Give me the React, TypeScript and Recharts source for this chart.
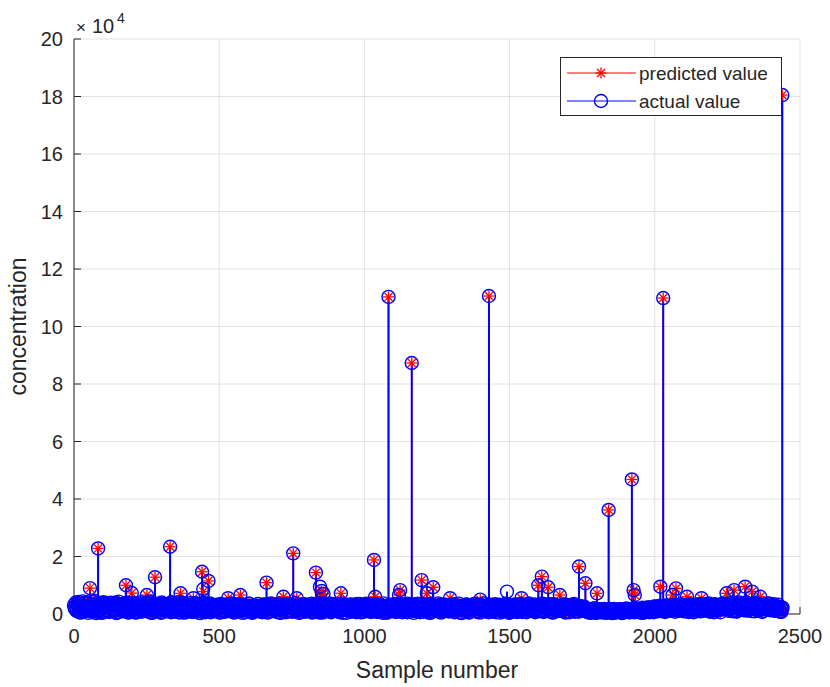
import React from 'react';
import { ComposedChart, Scatter, ErrorBar, XAxis, YAxis, CartesianGrid, Legend } from 'recharts';

const FONT = '"Liberation Sans", Arial, Helvetica, sans-serif';
const INK = '#262626';
const BLUE = '#0000ff';
const RED = '#ff0000';
const GRID = '#e2e2e2';

// dense low-level samples, values in units of 1e4
// baseA: samples 0, 8, 16, ... ; baseB: samples 4, 12, 20, ... ; baseC: samples 2, 6, 10, ...
const baseA = [
  0.31, 0.12, 0.42, 0.05, 0.22, 0.38, 0.15, 0.27, 0.08, 0.45, 0.19, 0.33, 0.04, 0.24, 0.36, 0.11, 0.29, 0.18, 0.40, 0.07,
  0.21, 0.34, 0.09, 0.26, 0.14, 0.37, 0.06, 0.23, 0.31, 0.12, 0.28, 0.17, 0.39, 0.05, 0.25, 0.33, 0.10, 0.30, 0.16, 0.35,
  0.13, 0.29, 0.41, 0.08, 0.24, 0.19, 0.36, 0.06, 0.27, 0.15, 0.32, 0.10, 0.38, 0.21, 0.04, 0.26, 0.34, 0.12, 0.23, 0.30,
  0.09, 0.25, 0.18, 0.33, 0.07, 0.22, 0.28, 0.14, 0.35, 0.05, 0.20, 0.31, 0.11, 0.27, 0.16, 0.24, 0.08, 0.30, 0.19, 0.13,
  0.26, 0.06, 0.32, 0.17, 0.23, 0.10, 0.29, 0.15, 0.36, 0.04, 0.21, 0.27, 0.12, 0.33, 0.08, 0.25, 0.18, 0.30, 0.07, 0.22,
  0.28, 0.14, 0.34, 0.09, 0.24, 0.19, 0.31, 0.05, 0.26, 0.16, 0.37, 0.11, 0.22, 0.29, 0.07, 0.32, 0.13, 0.25, 0.20, 0.08,
  0.30, 0.12, 0.23, 0.35, 0.06, 0.27, 0.17, 0.21, 0.33, 0.09, 0.24, 0.15, 0.31, 0.04, 0.28, 0.19, 0.11, 0.26, 0.34, 0.14,
  0.22, 0.08, 0.29, 0.18, 0.32, 0.10, 0.25, 0.14, 0.36, 0.06, 0.20, 0.27, 0.13, 0.30, 0.09, 0.23, 0.17, 0.28, 0.05, 0.24,
  0.16, 0.31, 0.11, 0.26, 0.07, 0.21, 0.29, 0.13, 0.18, 0.33, 0.05, 0.24, 0.15, 0.28, 0.09, 0.22, 0.30, 0.12, 0.19, 0.25,
  0.08, 0.27, 0.17, 0.32, 0.10, 0.23, 0.14, 0.29, 0.06, 0.20, 0.26, 0.12, 0.34, 0.07, 0.21, 0.16, 0.28, 0.11, 0.24, 0.30,
  0.18, 0.35, 0.09, 0.26, 0.14, 0.31, 0.06, 0.22, 0.28, 0.12, 0.19, 0.33, 0.08, 0.25, 0.15, 0.29, 0.10, 0.21, 0.27, 0.13,
  0.20, 0.07, 0.16, 0.11, 0.19, 0.05, 0.14, 0.09, 0.18, 0.04, 0.12, 0.17, 0.06, 0.15, 0.10, 0.13, 0.03, 0.16, 0.08, 0.11,
  0.14, 0.06, 0.19, 0.10, 0.16, 0.04, 0.21, 0.12, 0.08, 0.18, 0.25, 0.11, 0.22, 0.15, 0.28, 0.09, 0.24, 0.17, 0.30, 0.13,
  0.26, 0.19, 0.31, 0.11, 0.23, 0.16, 0.29, 0.08, 0.25, 0.21, 0.33, 0.14, 0.27, 0.10, 0.24, 0.18, 0.32, 0.12, 0.28, 0.36,
  0.20, 0.34, 0.15, 0.29, 0.38, 0.11, 0.26, 0.33, 0.18, 0.40, 0.13, 0.27, 0.35, 0.09, 0.24, 0.31, 0.16, 0.28, 0.21, 0.37,
  0.14, 0.30, 0.19, 0.25, 0.10, 0.22,
];
const baseB = [
  0.18, 0.36, 0.07, 0.29, 0.14, 0.41, 0.10, 0.25, 0.33, 0.03, 0.27, 0.16, 0.38, 0.09, 0.22, 0.30, 0.13, 0.35, 0.06, 0.26,
  0.32, 0.11, 0.24, 0.05, 0.37, 0.19, 0.28, 0.08, 0.34, 0.15, 0.21, 0.40, 0.07, 0.30, 0.12, 0.23, 0.36, 0.04, 0.27, 0.18,
  0.25, 0.09, 0.33, 0.16, 0.28, 0.05, 0.39, 0.12, 0.22, 0.31, 0.08, 0.26, 0.17, 0.35, 0.10, 0.29, 0.06, 0.24, 0.37, 0.14,
  0.21, 0.32, 0.06, 0.27, 0.13, 0.30, 0.19, 0.09, 0.25, 0.34, 0.11, 0.23, 0.04, 0.29, 0.17, 0.36, 0.07, 0.22, 0.28, 0.15,
  0.10, 0.31, 0.19, 0.07, 0.26, 0.35, 0.13, 0.22, 0.05, 0.28, 0.16, 0.33, 0.09, 0.24, 0.30, 0.11, 0.27, 0.06, 0.34, 0.18,
  0.12, 0.27, 0.05, 0.31, 0.18, 0.23, 0.10, 0.35, 0.14, 0.29, 0.07, 0.25, 0.33, 0.12, 0.20, 0.04, 0.28, 0.17, 0.32, 0.09,
  0.24, 0.06, 0.29, 0.15, 0.20, 0.32, 0.10, 0.26, 0.13, 0.35, 0.07, 0.22, 0.28, 0.17, 0.05, 0.31, 0.23, 0.09, 0.27, 0.19,
  0.33, 0.13, 0.21, 0.06, 0.27, 0.16, 0.30, 0.09, 0.24, 0.19, 0.34, 0.11, 0.25, 0.04, 0.29, 0.14, 0.22, 0.32, 0.08, 0.18,
  0.26, 0.09, 0.20, 0.33, 0.14, 0.28, 0.05, 0.23, 0.31, 0.10, 0.25, 0.17, 0.35, 0.07, 0.21, 0.27, 0.12, 0.29, 0.06, 0.16,
  0.31, 0.13, 0.24, 0.05, 0.29, 0.18, 0.33, 0.09, 0.26, 0.15, 0.07, 0.30, 0.19, 0.23, 0.11, 0.35, 0.14, 0.20, 0.06, 0.27,
  0.09, 0.24, 0.30, 0.13, 0.21, 0.06, 0.34, 0.17, 0.10, 0.27, 0.31, 0.05, 0.23, 0.16, 0.32, 0.08, 0.26, 0.14, 0.19, 0.24,
  0.09, 0.15, 0.04, 0.13, 0.08, 0.17, 0.11, 0.06, 0.14, 0.10, 0.18, 0.03, 0.12, 0.07, 0.16, 0.05, 0.14, 0.09, 0.12, 0.06,
  0.10, 0.17, 0.08, 0.13, 0.05, 0.15, 0.09, 0.19, 0.14, 0.06, 0.22, 0.16, 0.10, 0.26, 0.19, 0.12, 0.27, 0.21, 0.15, 0.24,
  0.11, 0.29, 0.17, 0.24, 0.07, 0.33, 0.20, 0.14, 0.30, 0.09, 0.26, 0.19, 0.35, 0.12, 0.28, 0.06, 0.22, 0.31, 0.15, 0.25,
  0.32, 0.17, 0.26, 0.09, 0.36, 0.22, 0.14, 0.30, 0.25, 0.12, 0.34, 0.19, 0.23, 0.38, 0.16, 0.29, 0.11, 0.33, 0.26, 0.20,
  0.27, 0.12, 0.24, 0.16, 0.07,
];
const baseC = [
  0.22, 0.40, 0.11, 0.30, 0.06, 0.35, 0.19, 0.44, 0.09, 0.27, 0.15, 0.38, 0.04, 0.31, 0.21, 0.12, 0.42, 0.17, 0.33, 0.08,
  0.26, 0.37, 0.13, 0.29, 0.05, 0.41, 0.20, 0.10, 0.34, 0.24, 0.07, 0.39, 0.16, 0.28, 0.12, 0.36, 0.03, 0.25, 0.43, 0.18,
  0.30, 0.09, 0.35, 0.21, 0.14, 0.40, 0.06, 0.27, 0.33, 0.11, 0.24, 0.38, 0.17, 0.05, 0.32, 0.26, 0.13, 0.41, 0.08, 0.29,
  0.19, 0.36, 0.10, 0.25, 0.44, 0.15, 0.31, 0.04, 0.22, 0.37, 0.12, 0.28, 0.18, 0.34, 0.07, 0.40, 0.23, 0.14, 0.30, 0.09,
  0.35, 0.16, 0.27, 0.06, 0.39, 0.21, 0.11, 0.33, 0.25, 0.08, 0.42, 0.18, 0.29, 0.13, 0.36, 0.05, 0.24, 0.31, 0.10, 0.38,
  0.14, 0.28, 0.07, 0.33, 0.20, 0.36, 0.11, 0.25, 0.03, 0.30, 0.17, 0.39, 0.09, 0.23, 0.34, 0.15, 0.27, 0.06, 0.32, 0.19,
  0.26, 0.10, 0.31, 0.16, 0.24, 0.05, 0.35, 0.13, 0.29, 0.20, 0.08, 0.33, 0.22, 0.12, 0.28, 0.37, 0.07, 0.25, 0.18, 0.30,
  0.11, 0.27, 0.34, 0.09, 0.21, 0.15, 0.32, 0.06, 0.26, 0.19, 0.36, 0.12, 0.23, 0.04, 0.30, 0.17, 0.28, 0.10, 0.35, 0.21,
  0.08, 0.29, 0.18, 0.33, 0.13, 0.25, 0.05, 0.31, 0.22, 0.37, 0.10, 0.27, 0.16, 0.34, 0.07, 0.24, 0.30, 0.14, 0.20, 0.28,
  0.17, 0.35, 0.06, 0.26, 0.12, 0.32, 0.21, 0.09, 0.29, 0.15, 0.38, 0.11, 0.23, 0.04, 0.31, 0.19, 0.27, 0.13, 0.34, 0.08,
  0.24, 0.30, 0.14, 0.20, 0.36, 0.07, 0.28, 0.17, 0.33, 0.10, 0.25, 0.05, 0.31, 0.22, 0.15, 0.35, 0.09, 0.27, 0.19, 0.12,
  0.29, 0.06, 0.23, 0.34, 0.16, 0.26, 0.11, 0.32, 0.08, 0.21, 0.37, 0.14, 0.28, 0.19, 0.04, 0.30, 0.24, 0.12, 0.33, 0.17,
  0.10, 0.27, 0.20, 0.35, 0.13, 0.24, 0.06, 0.31, 0.18, 0.29, 0.09, 0.36, 0.15, 0.22, 0.33, 0.07, 0.26, 0.12, 0.30, 0.19,
  0.34, 0.14, 0.25, 0.08, 0.31, 0.20, 0.37, 0.11, 0.27, 0.05, 0.23, 0.16, 0.32, 0.10, 0.28, 0.18, 0.35, 0.07, 0.24, 0.13,
  0.29, 0.19, 0.06, 0.33, 0.22, 0.12, 0.26, 0.36, 0.09, 0.30, 0.15, 0.21, 0.04, 0.34, 0.17, 0.27, 0.11, 0.31, 0.20, 0.25,
  0.08, 0.32, 0.14, 0.28, 0.23, 0.05, 0.35, 0.18, 0.11, 0.26, 0.30, 0.13, 0.21, 0.37, 0.07, 0.24, 0.16, 0.33, 0.10, 0.29,
  0.18, 0.25, 0.09, 0.31, 0.14, 0.22, 0.34, 0.06, 0.27, 0.12, 0.20, 0.36, 0.15, 0.03, 0.29, 0.23, 0.11, 0.32, 0.17, 0.26,
  0.07, 0.30, 0.21, 0.13, 0.35, 0.10, 0.26, 0.18, 0.32, 0.05, 0.24, 0.15, 0.37, 0.12, 0.28, 0.08, 0.22, 0.33, 0.16, 0.27,
  0.20, 0.11, 0.34, 0.06, 0.25, 0.29, 0.14, 0.31, 0.09, 0.23, 0.17, 0.36, 0.12, 0.27, 0.04, 0.30, 0.19, 0.24, 0.10, 0.33,
  0.15, 0.28, 0.08, 0.22, 0.35, 0.13, 0.26, 0.19, 0.31, 0.06, 0.24, 0.37, 0.11, 0.29, 0.16, 0.21, 0.33, 0.09, 0.27, 0.18,
  0.30, 0.12, 0.25, 0.36, 0.07, 0.22, 0.33, 0.16, 0.28, 0.10, 0.34, 0.19, 0.05, 0.26, 0.31, 0.14, 0.23, 0.11, 0.29, 0.20,
  0.13, 0.27, 0.09, 0.32, 0.18, 0.24, 0.06, 0.30, 0.21, 0.15, 0.35, 0.10, 0.26, 0.17, 0.08, 0.28, 0.22, 0.12, 0.19, 0.25,
  0.14, 0.08, 0.18, 0.05, 0.12, 0.16, 0.07, 0.19, 0.10, 0.04, 0.15, 0.11, 0.17, 0.06, 0.13, 0.09, 0.18, 0.05, 0.14, 0.08,
  0.12, 0.16, 0.06, 0.10, 0.18, 0.04, 0.13, 0.09, 0.15, 0.07, 0.17, 0.11, 0.05, 0.14, 0.08, 0.19, 0.12, 0.06, 0.16, 0.10,
  0.09, 0.15, 0.20, 0.07, 0.13, 0.18, 0.11, 0.05, 0.16, 0.22, 0.08, 0.14, 0.19, 0.12, 0.24, 0.06, 0.17, 0.21, 0.10, 0.26,
  0.15, 0.23, 0.09, 0.28, 0.18, 0.12, 0.25, 0.20, 0.07, 0.30, 0.14, 0.22, 0.27, 0.11, 0.19, 0.32, 0.16, 0.08, 0.24, 0.29,
  0.13, 0.21, 0.34, 0.17, 0.26, 0.09, 0.30, 0.23, 0.15, 0.33, 0.11, 0.27, 0.20, 0.06, 0.31, 0.18, 0.25, 0.14, 0.35, 0.22,
  0.10, 0.28, 0.19, 0.32, 0.14, 0.24, 0.37, 0.08, 0.29, 0.21, 0.16, 0.34, 0.12, 0.26, 0.31, 0.18, 0.06, 0.30, 0.23, 0.36,
  0.17, 0.33, 0.25, 0.11, 0.38, 0.21, 0.29, 0.14, 0.35, 0.27, 0.08, 0.31, 0.40, 0.19, 0.24, 0.36, 0.13, 0.30, 0.22, 0.39,
  0.15, 0.34, 0.26, 0.10, 0.31, 0.37, 0.18, 0.28, 0.12, 0.35, 0.23, 0.30, 0.07, 0.33, 0.20, 0.27, 0.16, 0.36, 0.24, 0.13,
  0.29, 0.18, 0.34, 0.11, 0.26, 0.21, 0.32, 0.08, 0.24, 0.17,
];

// notable samples (x = sample number), values in units of 1e4
const peakSamples = [
  55, 83, 179, 199, 251, 279, 331, 367, 411, 441, 445, 463, 531, 573, 663, 721, 755, 767, 833, 847,
  853, 859, 919, 1033, 1037, 1083, 1119, 1123, 1163, 1197, 1215, 1237, 1295, 1399, 1429, 1491, 1541, 1599, 1611, 1633,
  1673, 1739, 1761, 1801, 1841, 1921, 1927, 1931, 2019, 2029, 2061, 2073, 2111, 2161, 2247, 2273, 2311, 2335, 2363, 2439,
];
const peakActual = [
  0.90, 2.28, 1.00, 0.73, 0.66, 1.28, 2.34, 0.72, 0.55, 1.47, 0.87, 1.15, 0.55, 0.66, 1.09, 0.60, 2.11, 0.55, 1.44, 0.95,
  0.80, 0.70, 0.72, 1.88, 0.60, 11.03, 0.66, 0.83, 8.73, 1.18, 0.72, 0.93, 0.55, 0.50, 11.06, 0.78, 0.55, 1.00, 1.30, 0.93,
  0.66, 1.65, 1.07, 0.72, 3.62, 4.68, 0.83, 0.66, 0.95, 10.99, 0.66, 0.89, 0.60, 0.55, 0.72, 0.83, 0.95, 0.78, 0.60, 18.05,
];
const peakPredicted = [
  0.90, 2.28, 1.00, 0.73, 0.66, 1.28, 2.34, 0.72, 0.55, 1.47, 0.78, 1.15, 0.55, 0.66, 1.09, 0.60, 2.11, 0.55, 1.44, 0.75,
  0.80, 0.70, 0.72, 1.88, 0.60, 11.03, 0.66, 0.83, 8.73, 1.18, 0.72, 0.93, 0.55, 0.50, 11.06, 0.30, 0.55, 1.00, 1.30, 0.93,
  0.66, 1.65, 1.07, 0.72, 3.62, 4.68, 0.83, 0.66, 0.95, 10.99, 0.66, 0.89, 0.60, 0.55, 0.72, 0.83, 0.95, 0.78, 0.60, 18.05,
];

const xTicks = [0, 500, 1000, 1500, 2000, 2500];
const yTicks = [0, 2, 4, 6, 8, 10, 12, 14, 16, 18, 20];

type Row = { x: number; actual: number; predicted: number; actualStem: [number, number]; predStem: [number, number] };
const mk = (x: number, a: number, p: number): Row => ({ x, actual: a, predicted: p, actualStem: [a, 0], predStem: [p, 0] });
const rows: Row[] = [
  ...baseA.map((v, i) => mk(i * 8, v, v)),
  ...baseB.map((v, i) => mk(i * 8 + 4, v, v)),
  ...baseC.map((v, i) => mk(i * 4 + 2, v, v)),
  ...peakSamples.map((s, i) => mk(s, peakActual[i], peakPredicted[i])),
].sort((a, b) => a.x - b.x);

function CircleMark(props: any) {
  const { cx, cy } = props;
  if (cx == null || cy == null) return <g />;
  return <circle cx={cx} cy={cy} r={6.5} fill="none" stroke={BLUE} strokeWidth={1.4} />;
}

function StarMark(props: any) {
  const { cx, cy } = props;
  if (cx == null || cy == null) return <g />;
  const r = 5.5;
  const d = r * 0.72;
  return (
    <g stroke={RED} strokeWidth={1.3}>
      <line x1={cx - r} y1={cy} x2={cx + r} y2={cy} />
      <line x1={cx} y1={cy - r} x2={cx} y2={cy + r} />
      <line x1={cx - d} y1={cy - d} x2={cx + d} y2={cy + d} />
      <line x1={cx - d} y1={cy + d} x2={cx + d} y2={cy - d} />
    </g>
  );
}

function LegendBox() {
  return (
    <div
      style={{
        width: 222,
        height: 59,
        boxSizing: 'border-box',
        border: `1px solid ${INK}`,
        background: '#fff',
      }}
    >
      <svg width={220} height={57} style={{ display: 'block' }}>
        <line x1={6} y1={15} x2={75} y2={15} stroke={RED} strokeWidth={1.2} />
        <StarMark cx={40} cy={15} />
        <text x={78} y={15} dominantBaseline="central" fontFamily={FONT} fontSize={19} fill={INK}>
          predicted value
        </text>
        <line x1={6} y1={43} x2={75} y2={43} stroke={BLUE} strokeWidth={1.2} />
        <CircleMark cx={40} cy={43} />
        <text x={78} y={43} dominantBaseline="central" fontFamily={FONT} fontSize={19} fill={INK}>
          actual value
        </text>
      </svg>
    </div>
  );
}

function YLabel(props: any) {
  const vb = props.viewBox || { x: 34, y: 39, width: 40, height: 575 };
  const cx = vb.x - 8;
  const cy = vb.y + vb.height / 2;
  const rx = vb.x + vb.width;
  return (
    <g>
      <text
        x={cx}
        y={cy}
        transform={`rotate(-90, ${cx}, ${cy})`}
        textAnchor="middle"
        fontFamily={FONT}
        fontSize={23}
        fill={INK}
      >
        concentration
      </text>
      <text fontFamily={FONT} fill={INK}>
        <tspan x={rx + 2} y={vb.y - 6} fontSize={17}>×</tspan>
        <tspan x={rx + 18} y={vb.y - 6} fontSize={20}>10</tspan>
        <tspan x={rx + 43} y={vb.y - 16} fontSize={14}>4</tspan>
      </text>
    </g>
  );
}

const tickStyle = { fill: INK, fontSize: 20, fontFamily: FONT };

export default function App() {
  return (
    <div style={{ position: 'absolute', left: 0, top: 0, width: 830, height: 687, background: '#fff' }}>
      <ComposedChart
        width={830}
        height={687}
        data={rows}
        margin={{ top: 39, right: 30, bottom: 43, left: 34 }}
      >
        <CartesianGrid stroke={GRID} strokeWidth={1} />
        <XAxis
          dataKey="x"
          type="number"
          domain={[0, 2500]}
          ticks={xTicks}
          height={30}
          tickSize={-7}
          tickMargin={22}
          stroke={INK}
          tick={tickStyle}
          label={{ value: 'Sample number', position: 'bottom', offset: 18, fill: INK, fontSize: 23, fontFamily: FONT }}
        />
        <XAxis
          xAxisId="top"
          orientation="top"
          type="number"
          domain={[0, 2500]}
          ticks={xTicks}
          height={0}
          tickSize={-7}
          stroke={INK}
          tick={false}
        />
        <YAxis
          type="number"
          domain={[0, 20]}
          ticks={yTicks}
          width={40}
          tickSize={-7}
          tickMargin={18}
          stroke={INK}
          tick={tickStyle}
          label={{ content: (p: any) => <YLabel {...p} /> }}
        />
        <YAxis
          yAxisId="right"
          orientation="right"
          type="number"
          domain={[0, 20]}
          ticks={yTicks}
          width={0}
          tickSize={-7}
          stroke={INK}
          tick={false}
        />
        <Scatter dataKey="predicted" shape={<StarMark />} isAnimationActive={false}>
          <ErrorBar dataKey="predStem" direction="y" width={0} stroke={RED} strokeWidth={1.5} isAnimationActive={false} />
        </Scatter>
        <Scatter dataKey="actual" shape={<CircleMark />} isAnimationActive={false}>
          <ErrorBar dataKey="actualStem" direction="y" width={0} stroke={BLUE} strokeWidth={2} isAnimationActive={false} />
        </Scatter>
        <Legend
          layout="vertical"
          align="center"
          verticalAlign="middle"
          content={() => <LegendBox />}
          wrapperStyle={{ left: 560, top: 57, width: 222, height: 59 }}
        />
      </ComposedChart>
    </div>
  );
}
